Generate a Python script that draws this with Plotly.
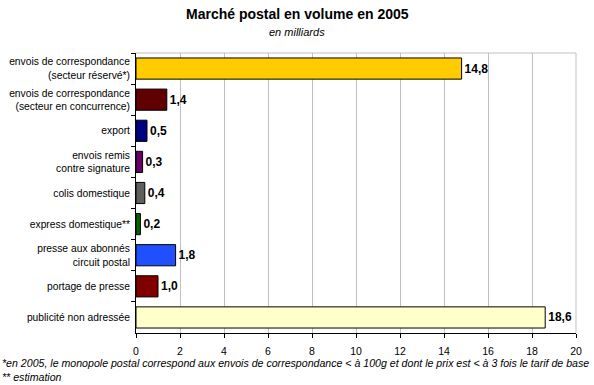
import plotly.graph_objects as go

categories = [
    "envois de correspondance<br>(secteur réservé*)",
    "envois de correspondance<br>(secteur en concurrence)",
    "export",
    "envois remis<br>contre signature",
    "colis domestique",
    "express domestique**",
    "presse aux abonnés<br>circuit postal",
    "portage de presse",
    "publicité non adressée",
]
values = [14.8, 1.4, 0.5, 0.3, 0.4, 0.2, 1.8, 1.0, 18.6]
colors = ["#FFCC00", "#600000", "#000080", "#660066", "#5F5F5F",
          "#006600", "#1F4FFF", "#800000", "#FFFFCC"]
xticks = [0, 2, 4, 6, 8, 10, 12, 14, 16, 18, 20]

FONT = "Arial, Liberation Sans, sans-serif"

fig = go.Figure(go.Bar(
    y=categories, x=values, orientation="h",
    marker=dict(color=colors, line=dict(color="black", width=1)),
    text=values, texttemplate="%{x:.1f}", textposition="outside",
    textfont=dict(family=FONT, size=12, color="black", weight="bold"),
    cliponaxis=False,
))

fig.update_layout(
    width=594, height=385,
    margin=dict(l=136, r=18, t=53, b=52),
    paper_bgcolor="white", plot_bgcolor="white",
    separators=", ",
    bargap=0.32,
    showlegend=False,
    font=dict(family=FONT, size=10, color="black"),
    xaxis=dict(range=[0, 20], tickvals=xticks, showgrid=True,
               gridcolor="#C0C0C0", gridwidth=1, zeroline=False,
               showline=True, linecolor="black", linewidth=1,
               ticks="outside", ticklen=4, tickcolor="black",
               tickfont=dict(size=10.5), ticklabelstandoff=4,
               mirror=False, automargin=False),
    yaxis=dict(autorange="reversed", type="category", showline=True,
               linecolor="black", linewidth=1, ticks="outside",
               tickson="boundaries", ticklen=4, tickcolor="black",
               tickfont=dict(size=10.3), ticklabelstandoff=3,
               showgrid=False, automargin=False),
    shapes=[
        dict(type="line", xref="paper", yref="paper", x0=0, x1=1, y0=1, y1=1,
             line=dict(color="#C0C0C0", width=1)),
        dict(type="line", xref="paper", yref="paper", x0=1, x1=1, y0=0, y1=1,
             line=dict(color="#C0C0C0", width=1)),
    ],
    annotations=[
        dict(text="<b>Marché postal en volume en 2005</b>", xref="paper", yref="paper",
             x=(297 - 136) / 440, y=(333 - 14) / 280, showarrow=False,
             font=dict(size=14), xanchor="center", yanchor="middle"),
        dict(text="<i>en milliards</i>", xref="paper", yref="paper",
             x=(297 - 136) / 440, y=(333 - 32) / 280, showarrow=False,
             font=dict(size=11), xanchor="center", yanchor="middle"),
        dict(text="<i>*en 2005, le monopole postal correspond aux envois de correspondance < à 100g et dont le prix est < à 3 fois le tarif de base</i>",
             xref="paper", yref="paper", x=(0 - 136) / 440, y=(333 - 363) / 280,
             showarrow=False, font=dict(size=10.6), xanchor="left", yanchor="middle"),
        dict(text="<i>** estimation</i>",
             xref="paper", yref="paper", x=(0 - 136) / 440, y=(333 - 377) / 280,
             showarrow=False, font=dict(size=10.6), xanchor="left", yanchor="middle"),
    ],
)

fig.write_html("out.html", config={"displayModeBar": False},
               post_script="document.body.style.margin='0px';")
